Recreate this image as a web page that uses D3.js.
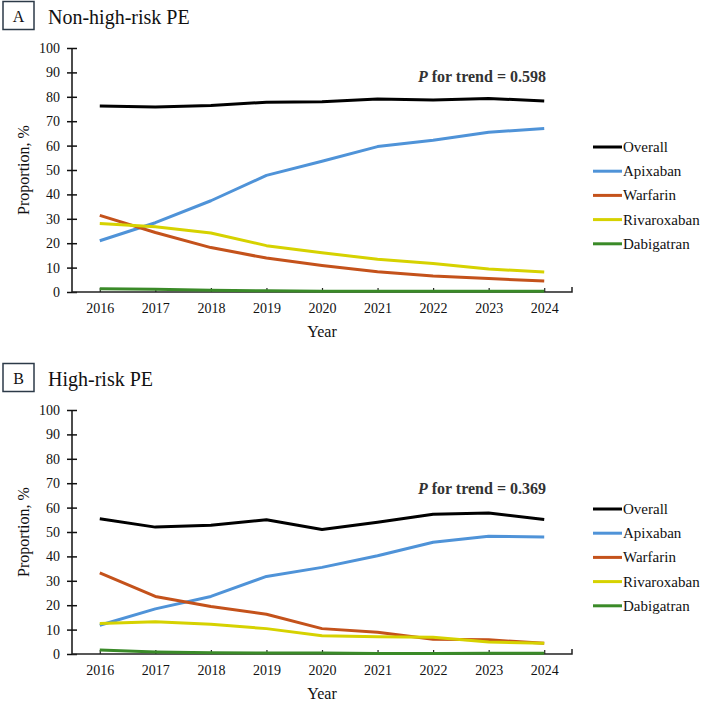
<!DOCTYPE html>
<html>
<head>
<meta charset="utf-8">
<script src="https://cdn.jsdelivr.net/npm/d3@7"></script>
<style>
  body { margin: 0; background: #fff; }
  svg text { font-family: "Liberation Serif", "DejaVu Serif", serif; fill: #111; }
</style>
</head>
<body>
<svg id="chart" width="702" height="702" font-family="Liberation Serif"></svg>
<script>
// data
var years = ["2016", "2017", "2018", "2019", "2020", "2021", "2022", "2023", "2024"];
var seriesNames = ["Overall", "Apixaban", "Warfarin", "Rivaroxaban", "Dabigatran"];
var seriesColors = ["#000000", "#4f93d8", "#c4521b", "#d6d200", "#3a8a28"];
var yTicks = [0, 10, 20, 30, 40, 50, 60, 70, 80, 90, 100];

var nonHighOverall = [76.2, 75.8, 76.4, 77.8, 78.0, 79.1, 78.7, 79.3, 78.3];
var nonHighApixaban = [21.0, 28.4, 37.4, 47.8, 53.6, 59.6, 62.2, 65.5, 67.0];
var nonHighWarfarin = [31.4, 24.4, 18.2, 13.9, 10.9, 8.3, 6.6, 5.5, 4.5];
var nonHighRivaroxaban = [28.1, 26.7, 24.2, 19.0, 16.1, 13.4, 11.7, 9.4, 8.2];
var nonHighDabigatran = [1.3, 1.1, 0.7, 0.5, 0.3, 0.3, 0.3, 0.3, 0.3];

var highOverall = [55.4, 52.0, 52.8, 55.0, 51.0, 54.0, 57.3, 57.8, 55.1];
var highApixaban = [11.8, 18.5, 23.6, 31.8, 35.5, 40.3, 45.8, 48.3, 47.9];
var highWarfarin = [33.2, 23.6, 19.5, 16.3, 10.4, 8.9, 6.0, 5.8, 4.4];
var highRivaroxaban = [12.5, 13.2, 12.2, 10.4, 7.5, 7.1, 6.9, 4.9, 4.4];
var highDabigatran = [1.6, 0.8, 0.5, 0.4, 0.4, 0.2, 0.2, 0.3, 0.3];

var panels = [
    { letter: "A", title: "Non-high-risk PE", pText: " for trend = 0.598", top: 0, pY: 82,
      series: [nonHighOverall, nonHighApixaban, nonHighWarfarin, nonHighRivaroxaban, nonHighDabigatran] },
    { letter: "B", title: "High-risk PE", pText: " for trend = 0.369", top: 362, pY: 132,
      series: [highOverall, highApixaban, highWarfarin, highRivaroxaban, highDabigatran] }
];

var svg = d3.select("#chart");
var serif = "Liberation Serif";

var left = 72, right = 572;

panels.forEach(function (p) {

    var g = svg.append("g").attr("transform", "translate(0," + p.top + ")");

    var x = d3.scalePoint().domain(years).range([left, right]).padding(0.5);
    var y = d3.scaleLinear().domain([0, 100]).range([292, 48]);

    // panel letter box + title
    g.append("rect")
        .attr("x", 3).attr("y", 1.5).attr("width", 31).attr("height", 28)
        .attr("fill", "none").attr("stroke", "#2c3a48").attr("stroke-width", 1.5);
    g.append("text").attr("x", 18.5).attr("y", 21.5).attr("text-anchor", "middle")
        .style("font-size", "16px").text(p.letter);
    g.append("text").attr("x", 48).attr("y", 24)
        .style("font-size", "20px").text(p.title);

    // y axis
    var yAxis = g.append("g")
        .attr("transform", "translate(" + left + ",0)")
        .call(d3.axisLeft(y).tickValues(yTicks).tickSize(5).tickPadding(7));
    yAxis.attr("font-family", serif);
    yAxis.select(".domain").attr("d", "M0," + y(100) + "V" + y(0)).attr("stroke", "#111").attr("stroke-width", 1.5);
    yAxis.selectAll(".tick line").attr("x1", 5).attr("stroke", "#111").attr("stroke-width", 1.5);
    yAxis.selectAll(".tick text").style("font-size", "14px");

    // x axis
    var xAxis = g.append("g")
        .attr("transform", "translate(0," + y(0) + ")")
        .call(d3.axisBottom(x).tickSize(-4).tickPadding(11));
    xAxis.attr("font-family", serif);
    xAxis.select(".domain").attr("d", "M" + left + ",0H" + right + "V-5").attr("stroke", "#222").attr("stroke-width", 1.5).attr("fill", "none");
    xAxis.selectAll(".tick line").attr("stroke", "#222").attr("stroke-width", 1.2);
    xAxis.selectAll(".tick text").style("font-size", "14px");

    g.append("text").attr("x", 322).attr("y", 337).attr("text-anchor", "middle")
        .style("font-size", "16px").text("Year");

    g.append("text")
        .attr("transform", "translate(29,170) rotate(-90)")
        .attr("text-anchor", "middle")
        .style("font-size", "16px")
        .text("Proportion, %");

    // lines
    var line = d3.line()
        .x(function (d, i) { return x(years[i]); })
        .y(function (d) { return y(d); });

    p.series.forEach(function (values, k) {
        g.append("path")
            .datum(values)
            .attr("fill", "none")
            .attr("stroke", seriesColors[k])
            .attr("stroke-width", 3)
            .attr("stroke-linejoin", "round")
            .attr("d", line);
    });

    // trend annotation
    var pt = g.append("text").attr("x", 546).attr("y", p.pY).attr("text-anchor", "end")
        .style("font-size", "16px").style("font-weight", "bold").style("fill", "#333");
    pt.append("tspan").style("font-style", "italic").text("P");
    pt.append("tspan").text(p.pText);

    // legend
    var legend = g.append("g");
    seriesNames.forEach(function (name, k) {
        var ly = 147 + k * 24.2;
        legend.append("line")
            .attr("x1", 593).attr("x2", 622).attr("y1", ly).attr("y2", ly)
            .attr("stroke", seriesColors[k]).attr("stroke-width", 3);
        legend.append("text").attr("x", 623).attr("y", ly + 5)
            .style("font-size", "15px").text(name);
    });
});
</script>
</body>
</html>
